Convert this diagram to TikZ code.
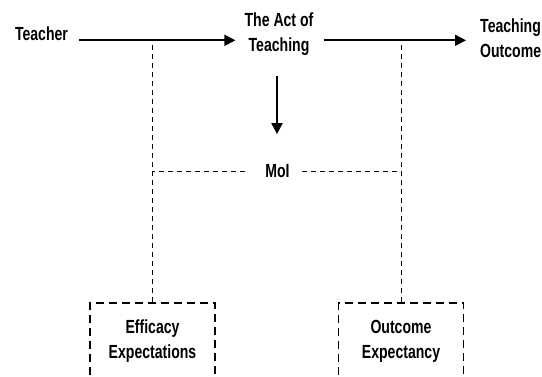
\documentclass[tikz,border=0pt]{standalone}
\usepackage{fontspec}
\setmainfont{Liberation Sans}[FakeStretch=0.74]
\usetikzlibrary{arrows.meta}
\usetikzlibrary{positioning}

\begin{document}
\begin{tikzpicture}[x=1pt, y=-1pt,
  lbl/.style={font=\bfseries\fontsize{19}{25}\selectfont, inner sep=0pt, align=center},
  flow/.style={black, line width=1.8pt, -{Triangle[length=11pt,width=11pt]}},
  link/.style={black, line width=0.8pt, dash pattern=on 5pt off 4pt},
  factor/.style={lbl, draw, line width=1.6pt, dash pattern=on 8pt off 5pt,
    minimum width=125pt, minimum height=76pt}]
\useasboundingbox (0,0) rectangle (542,376);
\clip (0,0) rectangle (542,376);

\node[lbl] (teacher) at (41.5,33.5) {Teacher};
\node[lbl] (act) at (279,34.5) {The Act of\\Teaching};
\node[lbl, anchor=west, align=left] (outcome) at (480,38) {Teaching\\Outcome};
\node[lbl] (moi) at (277.5,171) {MoI};
\node[factor] (efficacy) at (152.5,341) {Efficacy\\Expectations};
\node[factor] (expectancy) at (401,341) {Outcome\\Expectancy};

\draw[flow, shorten >=9pt] ([xshift=11pt]teacher.base east) -- (act.west |- teacher.base);
\draw[flow, shorten <=10pt, shorten >=14pt] (act.east |- teacher.base) -- (outcome.west |- teacher.base);
\draw[flow, shorten <=20pt, shorten >=30pt] ([xshift=-2pt]act.south) -- ([xshift=-0.5pt]moi.north);

\draw[link] (efficacy.north) -- (efficacy.north |- teacher.base);
\draw[link] (expectancy.north) -- (expectancy.north |- teacher.base);
\draw[link] ([xshift=-20pt]moi.west) -- (moi.west -| efficacy.north);
\draw[link] ([xshift=12pt]moi.east) -- (moi.east -| expectancy.north);
\end{tikzpicture}
\end{document}
